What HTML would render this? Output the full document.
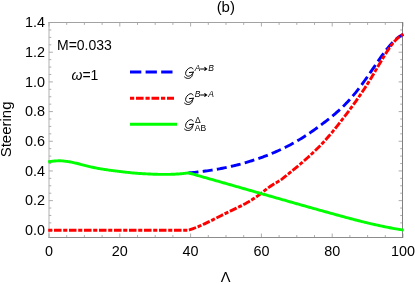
<!DOCTYPE html>
<html><head><meta charset="utf-8"><title>(b)</title>
<style>
html,body{margin:0;padding:0;background:#fff;}
body{width:415px;height:284px;overflow:hidden;}
svg{display:block;}
text{font-family:"Liberation Sans",sans-serif;fill:#000;}
.it{font-style:italic;}
</style></head><body>
<svg width="415" height="284" viewBox="0 0 415 284">
<rect x="0" y="0" width="415" height="284" fill="#fff"/>
<path d="M49.00 237.5v-4.0 M49.00 22.5v4.0 M66.70 237.5v-2.4 M66.70 22.5v2.4 M84.40 237.5v-2.4 M84.40 22.5v2.4 M102.10 237.5v-2.4 M102.10 22.5v2.4 M119.80 237.5v-4.0 M119.80 22.5v4.0 M137.50 237.5v-2.4 M137.50 22.5v2.4 M155.20 237.5v-2.4 M155.20 22.5v2.4 M172.90 237.5v-2.4 M172.90 22.5v2.4 M190.60 237.5v-4.0 M190.60 22.5v4.0 M208.30 237.5v-2.4 M208.30 22.5v2.4 M226.00 237.5v-2.4 M226.00 22.5v2.4 M243.70 237.5v-2.4 M243.70 22.5v2.4 M261.40 237.5v-4.0 M261.40 22.5v4.0 M279.10 237.5v-2.4 M279.10 22.5v2.4 M296.80 237.5v-2.4 M296.80 22.5v2.4 M314.50 237.5v-2.4 M314.50 22.5v2.4 M332.20 237.5v-4.0 M332.20 22.5v4.0 M349.90 237.5v-2.4 M349.90 22.5v2.4 M367.60 237.5v-2.4 M367.60 22.5v2.4 M385.30 237.5v-2.4 M385.30 22.5v2.4 M403.00 237.5v-4.0 M403.00 22.5v4.0 M48.9 230.30h4.0 M402.6 230.30h-4.0 M48.9 222.88h2.4 M402.6 222.88h-2.4 M48.9 215.46h2.4 M402.6 215.46h-2.4 M48.9 208.04h2.4 M402.6 208.04h-2.4 M48.9 200.62h4.0 M402.6 200.62h-4.0 M48.9 193.20h2.4 M402.6 193.20h-2.4 M48.9 185.78h2.4 M402.6 185.78h-2.4 M48.9 178.36h2.4 M402.6 178.36h-2.4 M48.9 170.94h4.0 M402.6 170.94h-4.0 M48.9 163.52h2.4 M402.6 163.52h-2.4 M48.9 156.10h2.4 M402.6 156.10h-2.4 M48.9 148.68h2.4 M402.6 148.68h-2.4 M48.9 141.26h4.0 M402.6 141.26h-4.0 M48.9 133.84h2.4 M402.6 133.84h-2.4 M48.9 126.42h2.4 M402.6 126.42h-2.4 M48.9 119.00h2.4 M402.6 119.00h-2.4 M48.9 111.58h4.0 M402.6 111.58h-4.0 M48.9 104.16h2.4 M402.6 104.16h-2.4 M48.9 96.74h2.4 M402.6 96.74h-2.4 M48.9 89.32h2.4 M402.6 89.32h-2.4 M48.9 81.90h4.0 M402.6 81.90h-4.0 M48.9 74.48h2.4 M402.6 74.48h-2.4 M48.9 67.06h2.4 M402.6 67.06h-2.4 M48.9 59.64h2.4 M402.6 59.64h-2.4 M48.9 52.22h4.0 M402.6 52.22h-4.0 M48.9 44.80h2.4 M402.6 44.80h-2.4 M48.9 37.38h2.4 M402.6 37.38h-2.4 M48.9 29.96h2.4 M402.6 29.96h-2.4 M48.9 22.54h4.0 M402.6 22.54h-4.0" stroke="#8a8a8a" stroke-width="0.7" fill="none"/>
<path d="M48.4 22.5H403.1" stroke="#a2a2a2" stroke-width="1" fill="none"/>
<path d="M48.4 237.5H403.1" stroke="#8c8c8c" stroke-width="1" fill="none"/>
<path d="M49.0 22V238" stroke="#b0b0b0" stroke-width="1" fill="none"/>
<path d="M402.5 22V238" stroke="#808080" stroke-width="1" fill="none"/>
<g fill="none" stroke-linejoin="round">
<path d="M188.50 172.90 L190.05 172.77 L191.59 172.63 L193.14 172.48 L194.68 172.33 L196.23 172.17 L197.78 172.00 L199.32 171.83 L200.87 171.64 L202.41 171.45 L203.96 171.26 L205.51 171.05 L207.05 170.83 L208.60 170.61 L210.14 170.38 L211.69 170.14 L213.24 169.89 L214.78 169.64 L216.33 169.37 L217.87 169.10 L219.42 168.82 L220.97 168.53 L222.51 168.23 L224.06 167.92 L225.61 167.60 L227.15 167.28 L228.70 166.94 L230.24 166.60 L231.79 166.24 L233.34 165.88 L234.88 165.50 L236.43 165.12 L237.97 164.73 L239.52 164.32 L241.07 163.91 L242.61 163.49 L244.16 163.06 L245.70 162.61 L247.25 162.16 L248.80 161.69 L250.34 161.22 L251.89 160.74 L253.43 160.24 L254.98 159.73 L256.53 159.22 L258.07 158.69 L259.62 158.15 L261.16 157.60 L262.71 157.04 L264.26 156.46 L265.80 155.88 L267.35 155.28 L268.89 154.68 L270.44 154.05 L271.99 153.42 L273.53 152.77 L275.08 152.11 L276.62 151.44 L278.17 150.75 L279.72 150.04 L281.26 149.33 L282.81 148.59 L284.35 147.84 L285.90 147.07 L287.45 146.29 L288.99 145.49 L290.54 144.67 L292.08 143.84 L293.63 142.98 L295.18 142.11 L296.72 141.22 L298.27 140.31 L299.82 139.38 L301.36 138.44 L302.91 137.47 L304.45 136.48 L306.00 135.48 L307.55 134.46 L309.09 133.42 L310.64 132.37 L312.18 131.30 L313.73 130.22 L315.28 129.12 L316.82 128.01 L318.37 126.89 L319.91 125.75 L321.46 124.60 L323.01 123.44 L324.55 122.27 L326.10 121.08 L327.64 119.88 L329.19 118.66 L330.74 117.42 L332.28 116.16 L333.83 114.87 L335.37 113.55 L336.92 112.20 L338.47 110.82 L340.01 109.41 L341.56 107.95 L343.10 106.46 L344.65 104.93 L346.20 103.35 L347.74 101.72 L349.29 100.04 L350.83 98.31 L352.38 96.53 L353.93 94.69 L355.47 92.80 L357.02 90.86 L358.56 88.87 L360.11 86.84 L361.66 84.77 L363.20 82.65 L364.75 80.51 L366.29 78.33 L367.84 76.12 L369.39 73.89 L370.93 71.64 L372.48 69.38 L374.03 67.10 L375.57 64.84 L377.12 62.58 L378.66 60.34 L380.21 58.13 L381.76 55.96 L383.30 53.83 L384.85 51.76 L386.39 49.74 L387.94 47.80 L389.49 45.94 L391.03 44.16 L392.58 42.48 L394.12 40.92 L395.67 39.47 L397.22 38.16 L398.76 36.98 L400.31 35.95 L401.85 35.09 L403.40 34.40" stroke="#0000ff" stroke-width="2.9" stroke-dasharray="10 4.3"/>
<path d="M48.2 230.2 L188.5 230.2 L190.05 229.70 L191.59 229.17 L193.14 228.61 L194.68 228.02 L196.23 227.42 L197.78 226.79 L199.32 226.13 L200.87 225.46 L202.41 224.77 L203.96 224.07 L205.51 223.35 L207.05 222.62 L208.60 221.87 L210.14 221.12 L211.69 220.35 L213.24 219.58 L214.78 218.81 L216.33 218.03 L217.87 217.25 L219.42 216.46 L220.97 215.68 L222.51 214.90 L224.06 214.13 L225.61 213.36 L227.15 212.60 L228.70 211.84 L230.24 211.10 L231.79 210.36 L233.34 209.62 L234.88 208.89 L236.43 208.15 L237.97 207.40 L239.52 206.64 L241.07 205.87 L242.61 205.08 L244.16 204.27 L245.70 203.44 L247.25 202.58 L248.80 201.69 L250.34 200.77 L251.89 199.81 L253.43 198.81 L254.98 197.78 L256.53 196.71 L258.07 195.61 L259.62 194.47 L261.16 193.30 L262.71 192.11 L264.26 190.90 L265.80 189.70 L267.35 188.52 L268.89 187.36 L270.44 186.25 L271.99 185.20 L273.53 184.22 L275.08 183.32 L276.62 182.45 L278.17 181.56 L279.72 180.62 L281.26 179.58 L282.81 178.44 L284.35 177.23 L285.90 175.99 L287.45 174.73 L288.99 173.47 L290.54 172.21 L292.08 170.94 L293.63 169.67 L295.18 168.39 L296.72 167.10 L298.27 165.81 L299.82 164.50 L301.36 163.19 L302.91 161.86 L304.45 160.51 L306.00 159.15 L307.55 157.76 L309.09 156.36 L310.64 154.94 L312.18 153.50 L313.73 152.03 L315.28 150.54 L316.82 149.02 L318.37 147.47 L319.91 145.89 L321.46 144.28 L323.01 142.64 L324.55 140.96 L326.10 139.25 L327.64 137.50 L329.19 135.72 L330.74 133.90 L332.28 132.06 L333.83 130.18 L335.37 128.28 L336.92 126.35 L338.47 124.41 L340.01 122.44 L341.56 120.45 L343.10 118.45 L344.65 116.44 L346.20 114.41 L347.74 112.36 L349.29 110.29 L350.83 108.20 L352.38 106.08 L353.93 103.95 L355.47 101.79 L357.02 99.60 L358.56 97.38 L360.11 95.13 L361.66 92.85 L363.20 90.53 L364.75 88.18 L366.29 85.80 L367.84 83.37 L369.39 80.90 L370.93 78.40 L372.48 75.85 L374.03 73.26 L375.57 70.63 L377.12 67.98 L378.66 65.33 L380.21 62.69 L381.76 60.07 L383.30 57.50 L384.85 54.97 L386.39 52.52 L387.94 50.15 L389.49 47.89 L391.03 45.73 L392.58 43.71 L394.12 41.83 L395.67 40.11 L397.22 38.56 L398.76 37.20 L400.31 36.04 L401.85 35.10 L403.40 34.40" stroke="#ff0000" stroke-width="2.9" stroke-dasharray="4.1 1.7 7.5 1.7"/>
<path d="M48.20 161.90 L49.21 161.71 L50.22 161.55 L51.23 161.40 L52.24 161.27 L53.25 161.16 L54.26 161.06 L55.27 160.98 L56.27 160.91 L57.28 160.85 L58.29 160.81 L59.30 160.80 L60.31 160.81 L61.32 160.84 L62.33 160.90 L63.34 160.98 L64.35 161.08 L65.36 161.19 L66.37 161.32 L67.38 161.47 L68.39 161.62 L69.40 161.79 L70.41 161.97 L71.42 162.17 L72.42 162.37 L73.43 162.59 L74.44 162.81 L75.45 163.05 L76.46 163.28 L77.47 163.53 L78.48 163.78 L79.49 164.03 L80.50 164.29 L81.51 164.55 L82.52 164.80 L83.53 165.06 L84.54 165.32 L85.55 165.58 L86.56 165.83 L87.56 166.09 L88.57 166.34 L89.58 166.58 L90.59 166.82 L91.60 167.06 L92.61 167.28 L93.62 167.51 L94.63 167.72 L95.64 167.93 L96.65 168.13 L97.66 168.32 L98.67 168.51 L99.68 168.69 L100.69 168.86 L101.70 169.03 L102.71 169.19 L103.71 169.35 L104.72 169.50 L105.73 169.65 L106.74 169.79 L107.75 169.94 L108.76 170.07 L109.77 170.21 L110.78 170.35 L111.79 170.48 L112.80 170.61 L113.81 170.74 L114.82 170.86 L115.83 170.99 L116.84 171.11 L117.85 171.24 L118.85 171.36 L119.86 171.48 L120.87 171.61 L121.88 171.73 L122.89 171.85 L123.90 171.97 L124.91 172.09 L125.92 172.20 L126.93 172.32 L127.94 172.43 L128.95 172.54 L129.96 172.65 L130.97 172.75 L131.98 172.85 L132.99 172.95 L133.99 173.04 L135.00 173.12 L136.01 173.21 L137.02 173.29 L138.03 173.36 L139.04 173.43 L140.05 173.50 L141.06 173.57 L142.07 173.63 L143.08 173.69 L144.09 173.75 L145.10 173.81 L146.11 173.86 L147.12 173.91 L148.13 173.96 L149.14 174.01 L150.14 174.05 L151.15 174.10 L152.16 174.14 L153.17 174.18 L154.18 174.21 L155.19 174.25 L156.20 174.28 L157.21 174.31 L158.22 174.34 L159.23 174.36 L160.24 174.38 L161.25 174.39 L162.26 174.40 L163.27 174.41 L164.28 174.41 L165.28 174.41 L166.29 174.40 L167.30 174.39 L168.31 174.38 L169.32 174.36 L170.33 174.33 L171.34 174.30 L172.35 174.27 L173.36 174.23 L174.37 174.18 L175.38 174.13 L176.39 174.07 L177.40 174.01 L178.41 173.94 L179.42 173.86 L180.43 173.78 L181.43 173.69 L182.44 173.60 L183.45 173.50 L184.46 173.39 L185.47 173.28 L186.48 173.16 L187.49 173.03 L188.50 172.90 L190.05 173.34 L191.60 173.77 L193.14 174.21 L194.69 174.65 L196.24 175.08 L197.79 175.52 L199.34 175.96 L200.89 176.40 L202.43 176.83 L203.98 177.27 L205.53 177.71 L207.08 178.15 L208.63 178.59 L210.17 179.03 L211.72 179.47 L213.27 179.91 L214.82 180.35 L216.37 180.79 L217.92 181.23 L219.46 181.67 L221.01 182.11 L222.56 182.55 L224.11 183.00 L225.66 183.44 L227.21 183.88 L228.75 184.32 L230.30 184.76 L231.85 185.20 L233.40 185.65 L234.95 186.09 L236.49 186.53 L238.04 186.97 L239.59 187.42 L241.14 187.86 L242.69 188.30 L244.24 188.74 L245.78 189.19 L247.33 189.63 L248.88 190.07 L250.43 190.51 L251.98 190.96 L253.52 191.40 L255.07 191.84 L256.62 192.28 L258.17 192.73 L259.72 193.17 L261.27 193.61 L262.81 194.05 L264.36 194.50 L265.91 194.94 L267.46 195.38 L269.01 195.82 L270.55 196.26 L272.10 196.70 L273.65 197.15 L275.20 197.59 L276.75 198.03 L278.30 198.47 L279.84 198.91 L281.39 199.35 L282.94 199.79 L284.49 200.23 L286.04 200.67 L287.58 201.11 L289.13 201.55 L290.68 201.99 L292.23 202.43 L293.78 202.87 L295.33 203.31 L296.87 203.74 L298.42 204.18 L299.97 204.62 L301.52 205.06 L303.07 205.49 L304.62 205.93 L306.16 206.37 L307.71 206.80 L309.26 207.24 L310.81 207.67 L312.36 208.11 L313.90 208.54 L315.45 208.98 L317.00 209.41 L318.55 209.84 L320.10 210.28 L321.65 210.71 L323.19 211.14 L324.74 211.57 L326.29 212.00 L327.84 212.43 L329.39 212.86 L330.93 213.29 L332.48 213.72 L334.03 214.15 L335.58 214.58 L337.13 215.00 L338.68 215.43 L340.22 215.85 L341.77 216.27 L343.32 216.69 L344.87 217.11 L346.42 217.53 L347.96 217.94 L349.51 218.36 L351.06 218.76 L352.61 219.17 L354.16 219.57 L355.71 219.98 L357.25 220.37 L358.80 220.77 L360.35 221.16 L361.90 221.55 L363.45 221.93 L364.99 222.31 L366.54 222.69 L368.09 223.06 L369.64 223.43 L371.19 223.79 L372.74 224.15 L374.28 224.50 L375.83 224.85 L377.38 225.19 L378.93 225.53 L380.48 225.86 L382.03 226.19 L383.57 226.51 L385.12 226.83 L386.67 227.14 L388.22 227.44 L389.77 227.74 L391.31 228.03 L392.86 228.31 L394.41 228.59 L395.96 228.86 L397.51 229.12 L399.06 229.38 L400.60 229.63 L402.15 229.87 L403.70 230.10" stroke="#00ff00" stroke-width="2.9"/>
</g>
<g style="will-change:transform">
<text x="49.00" y="255.7" font-size="14.4" text-anchor="middle">0</text>
<text x="119.80" y="255.7" font-size="14.4" text-anchor="middle">20</text>
<text x="190.60" y="255.7" font-size="14.4" text-anchor="middle">40</text>
<text x="261.40" y="255.7" font-size="14.4" text-anchor="middle">60</text>
<text x="332.20" y="255.7" font-size="14.4" text-anchor="middle">80</text>
<text x="403.00" y="255.7" font-size="14.4" text-anchor="middle">100</text>
<text x="44.9" y="235.15" font-size="14.4" text-anchor="end">0.0</text>
<text x="44.9" y="205.47" font-size="14.4" text-anchor="end">0.2</text>
<text x="44.9" y="175.79" font-size="14.4" text-anchor="end">0.4</text>
<text x="44.9" y="146.11" font-size="14.4" text-anchor="end">0.6</text>
<text x="44.9" y="116.43" font-size="14.4" text-anchor="end">0.8</text>
<text x="44.9" y="86.75" font-size="14.4" text-anchor="end">1.0</text>
<text x="44.9" y="57.07" font-size="14.4" text-anchor="end">1.2</text>
<text x="44.9" y="27.39" font-size="14.4" text-anchor="end">1.4</text>
<text x="225.8" y="12" font-size="15" text-anchor="middle">(b)</text>
<text x="225.65" y="282.2" font-size="14.6" text-anchor="middle">&#923;</text>
<text transform="translate(11.1,129.4) rotate(-90)" font-size="15" text-anchor="middle">Steering</text>
<text x="57" y="50" font-size="14">M=0.033</text>
<text x="71.5" y="79.9" font-size="14"><tspan class="it">&#969;</tspan>=1</text>
<g fill="none" stroke-width="3.05">
<path d="M130.0 72.0H172.5" stroke="#0000ff" stroke-dasharray="11.3 4.3"/>
<path d="M130.0 98.25H174" stroke="#ff0000" stroke-dasharray="4.2 1.8 7.6 1.9"/>
<path d="M130.0 124.25H177" stroke="#00ff00"/>
</g>
<defs><path id="G" d="M193.0 68.4 C192.5 67.2 191.2 66.8 189.9 67.3 C187.6 68.1 185.6 70.6 185.6 73.0 C185.6 74.8 186.9 75.8 188.5 75.7 C190.0 75.6 191.4 74.8 192.1 73.6 M189.4 72.0 L193.6 71.6 M193.1 71.7 C192.8 73.4 192.4 75.0 191.6 76.2 C190.7 77.5 189.0 78.1 187.5 77.9 C186.2 77.7 185.1 77.2 184.5 76.5" fill="none" stroke="#000" stroke-width="1.0" stroke-linecap="round" stroke-linejoin="round"/><path id="AR" d="M200.2 68.4H206.2 M204.4 66.7L206.7 68.4L204.4 70.1" fill="none" stroke="#000" stroke-width="1.05" stroke-linejoin="miter"/></defs>
<use href="#G" y="0.5"/><use href="#AR" y="0.5"/>
<text x="194.7" y="71.20" font-size="8.5" class="it">A</text>
<text x="208.2" y="71.20" font-size="8.5" class="it">B</text>
<use href="#G" y="26.6"/><use href="#AR" y="26.6"/>
<text x="194.7" y="97.30" font-size="8.5" class="it">B</text>
<text x="208.2" y="97.30" font-size="8.5" class="it">A</text>
<use href="#G" y="52.6"/>
<text x="195.1" y="123.0" font-size="8.5">&#916;</text>
<text x="194.8" y="131.2" font-size="8.5">AB</text>
</g>
</svg></body></html>
